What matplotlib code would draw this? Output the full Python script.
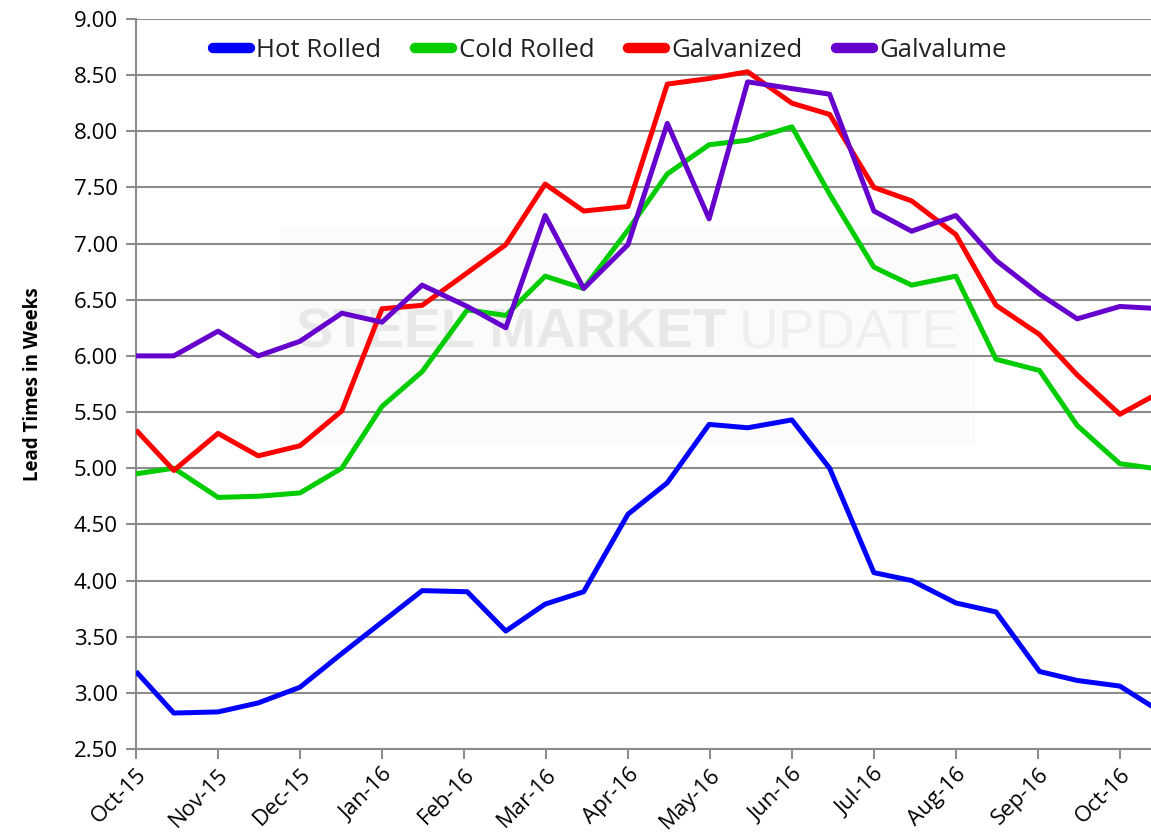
import numpy as np
import matplotlib
matplotlib.use("Agg")
import matplotlib.pyplot as plt
from matplotlib.patches import Rectangle

plt.rcParams['font.family'] = ['Open Sans', 'DejaVu Sans']

# survey dates as month offsets from Oct-15 (twice a month)
x_pos = [0, 0.46, 1.0, 1.49, 2.0, 2.51, 3.0, 3.49, 4.04, 4.51, 4.99, 5.46, 6.0,
         6.48, 6.99, 7.46, 8.0, 8.46, 9.0, 9.46, 10.0, 10.49, 11.02, 11.48, 12.0, 12.5]
month_labels = ['Oct-15', 'Nov-15', 'Dec-15', 'Jan-16', 'Feb-16', 'Mar-16', 'Apr-16',
                'May-16', 'Jun-16', 'Jul-16', 'Aug-16', 'Sep-16', 'Oct-16']

hot_rolled = [3.19, 2.82, 2.83, 2.91, 3.05, 3.35, 3.63, 3.91, 3.90, 3.55, 3.79, 3.90, 4.59,
              4.87, 5.39, 5.36, 5.43, 5.00, 4.07, 4.00, 3.80, 3.72, 3.19, 3.11, 3.06, 2.83]
cold_rolled = [4.95, 5.00, 4.74, 4.75, 4.78, 5.00, 5.55, 5.86, 6.41, 6.36, 6.71, 6.60, 7.12,
               7.62, 7.88, 7.92, 8.04, 7.44, 6.79, 6.63, 6.71, 5.97, 5.87, 5.38, 5.04, 4.99]
galvanized = [5.34, 4.98, 5.31, 5.11, 5.20, 5.51, 6.42, 6.45, 6.74, 6.99, 7.53, 7.29, 7.33,
              8.42, 8.47, 8.53, 8.25, 8.15, 7.50, 7.38, 7.08, 6.45, 6.19, 5.83, 5.48, 5.68]
galvalume = [6.00, 6.00, 6.22, 6.00, 6.13, 6.38, 6.30, 6.63, 6.44, 6.25, 7.25, 6.60, 6.99,
             8.07, 7.22, 8.44, 8.38, 8.33, 7.29, 7.11, 7.25, 6.85, 6.55, 6.33, 6.44, 6.42]

series = [('Hot Rolled', hot_rolled, '#0000ff'),
          ('Cold Rolled', cold_rolled, '#00cc00'),
          ('Galvanized', galvanized, '#ff0000'),
          ('Galvalume', galvalume, '#6600cc')]

fig = plt.figure(figsize=(11.51, 8.39), dpi=100)
ax = fig.add_axes([0.1182, 0.1073, 0.8818, 0.8701])

# faint watermark behind the data
ax.add_patch(Rectangle((1.76, 5.2), 8.47, 1.95, facecolor='#fbfbfb', edgecolor='none', zorder=0.1))
ax.text(1.95, 6.2, 'STEEL MARKET', ha='left', va='center', fontsize=40,
        family=['Liberation Sans'], fontweight='bold', color='#e8e8e8', zorder=0.2)
ax.text(7.35, 6.2, 'UPDATE', ha='left', va='center', fontsize=40,
        family=['Liberation Sans'], color='#efefef', zorder=0.2)

for name, vals, col in series:
    ax.plot(x_pos, vals, color=col, lw=3.6, label=name, solid_joinstyle='round',
            solid_capstyle='butt', zorder=3)

ax.set_xlim(0, 12.38)
ax.set_ylim(2.5, 9.0)
ax.set_yticks(np.arange(2.5, 9.01, 0.5))
ax.yaxis.set_major_formatter(matplotlib.ticker.FormatStrFormatter('%.2f'))
ax.set_xticks(range(len(month_labels)))
ax.set_xticklabels(month_labels, rotation=45, ha='right', rotation_mode='anchor')

ax.grid(axis='y', color='#8c8c8c', lw=1.5)
ax.set_axisbelow(True)
for s in ['top', 'right']:
    ax.spines[s].set_visible(False)
for s in ['left', 'bottom']:
    ax.spines[s].set_color('#8c8c8c')
    ax.spines[s].set_linewidth(1.5)
ax.tick_params(axis='both', color='#8c8c8c', width=1.5, length=7, labelsize=16,
               labelcolor='black')
ax.tick_params(axis='y', pad=6)
ax.tick_params(axis='x', pad=4)

ax.set_ylabel('Lead Times in Weeks', fontsize=13.5, fontweight='bold', labelpad=22)

leg = ax.legend(loc='upper center', bbox_to_anchor=(0.467, 1.006), ncol=4, frameon=False,
                fontsize=18.5, handlelength=1.45, handletextpad=0.25, columnspacing=1.3)
for h in leg.get_lines():
    h.set_linewidth(7.5)
    h.set_solid_capstyle('round')
for t in leg.get_texts():
    t.set_color('#222222')

fig.savefig('out.png', dpi=100)
